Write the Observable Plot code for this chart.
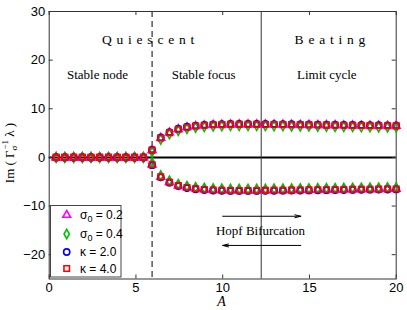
<!DOCTYPE html>
<html>
<head>
<meta charset="utf-8">
<script src="https://cdn.jsdelivr.net/npm/d3@7"></script>
<script src="https://cdn.jsdelivr.net/npm/@observablehq/plot@0.6"></script>
<style>
  html, body { margin: 0; padding: 0; background: #fff; }
  #chart { width: 407px; height: 310px; }
</style>
</head>
<body>
<div id="chart"></div>
<script>
// ---- data ----
const A = [0.40, 0.90, 1.41, 1.91, 2.41, 2.91, 3.42, 3.92, 4.42, 4.92, 5.43, 5.93, 6.43, 6.93, 7.44, 7.94, 8.44, 8.94, 9.45, 9.95, 10.45, 10.95, 11.46, 11.96, 12.46, 12.96, 13.47, 13.97, 14.47, 14.97, 15.48, 15.98, 16.48, 16.98, 17.49, 17.99, 18.49, 18.99, 19.50, 20.00];
const imSigma02 = [0,0,0,0,0,0,0,0,0,0,0, 1.5, 4.0, 5.1, 5.8, 6.2, 6.45, 6.6, 6.7, 6.75, 6.8, 6.8, 6.8, 6.8, 6.78, 6.76, 6.74, 6.72, 6.7, 6.68, 6.66, 6.64, 6.62, 6.6, 6.58, 6.56, 6.54, 6.52, 6.5, 6.48];
const imSigma04 = [0,0,0,0,0,0,0,0,0,0,0, 1.1, 3.7, 4.8, 5.5, 5.9, 6.15, 6.3, 6.4, 6.45, 6.5, 6.5, 6.5, 6.5, 6.48, 6.46, 6.44, 6.42, 6.4, 6.38, 6.36, 6.34, 6.32, 6.3, 6.28, 6.26, 6.24, 6.22, 6.2, 6.18];
const imKappa2  = [0,0,0,0,0,0,0,0,0,0,0, 1.6, 4.1, 5.2, 5.9, 6.3, 6.55, 6.7, 6.8, 6.85, 6.9, 6.9, 6.9, 6.9, 6.88, 6.86, 6.84, 6.82, 6.8, 6.78, 6.76, 6.74, 6.72, 6.7, 6.68, 6.66, 6.64, 6.62, 6.6, 6.58];
const imKappa4  = [0,0,0,0,0,0,0,0,0,0,0, 1.5, 4.0, 5.1, 5.8, 6.2, 6.45, 6.6, 6.7, 6.75, 6.8, 6.8, 6.8, 6.8, 6.78, 6.76, 6.74, 6.72, 6.7, 6.68, 6.66, 6.64, 6.62, 6.6, 6.58, 6.56, 6.54, 6.52, 6.5, 6.48];

const seriesNames = ["σ0 = 0.2", "σ0 = 0.4", "κ = 2.0", "κ = 4.0"];
const seriesValues = [imSigma02, imSigma04, imKappa2, imKappa4];
const seriesSymbols = ["triangle", "diamond", "circle", "square"];
const seriesColors = ["#ff00ff", "#00c000", "#0000ff", "#ff0000"];
const seriesR = [2.9, 2.8, 3.1, 3.1];

const xTicks = [0, 5, 10, 15, 20];
const yTicks = [-20, -10, 0, 10, 20, 30];
const criticalA = 5.93;   // dashed line: onset of oscillation
const hopfA = 12.22;      // solid line: Hopf bifurcation

// build the point table (upper branch and its complex conjugate)
function rows(k) {
  const out = [];
  A.forEach((a, i) => {
    out.push({A: a, im: seriesValues[k][i]});
    out.push({A: a, im: -seriesValues[k][i]});
  });
  return out;
}

const W = 407, H = 310;
const mL = 48.7, mR = 11.3, mT = 11, mB = 31.5;
const innerW = W - mL - mR, innerH = H - mT - mB;
const tk = 4;
const serif = "Liberation Serif, serif";

const marks = [
  Plot.ruleY([0], {stroke: "#000", strokeWidth: 2}),
  Plot.ruleX([criticalA], {stroke: "#000", strokeWidth: 1, strokeDasharray: "6,4"}),
  Plot.ruleX([hopfA], {stroke: "#333", strokeWidth: 1}),
  // inward ticks on all four sides
  Plot.ruleX(xTicks, {stroke: "#333", insetTop: innerH - tk}),
  Plot.ruleX(xTicks, {stroke: "#333", insetBottom: innerH - tk}),
  Plot.ruleY(yTicks, {stroke: "#333", insetRight: innerW - tk}),
  Plot.ruleY(yTicks, {stroke: "#333", insetLeft: innerW - tk}),
  Plot.frame({stroke: "#333", strokeWidth: 1}),
  // annotations
  Plot.text(["Q u i e s c e n t"], {x: 5.72, y: 24.25, text: d => d, fontFamily: serif, fontSize: 13.5}),
  Plot.text(["B e a t i n g"], {x: 16.2, y: 24.25, text: d => d, fontFamily: serif, fontSize: 13.5}),
  Plot.text(["Stable node"], {x: 2.78, y: 17, text: d => d, fontFamily: serif, fontSize: 13}),
  Plot.text(["Stable focus"], {x: 8.9, y: 17, text: d => d, fontFamily: serif, fontSize: 13}),
  Plot.text(["Limit cycle"], {x: 16.0, y: 17, text: d => d, fontFamily: serif, fontSize: 13}),
  Plot.text(["Hopf Bifurcation"], {x: 12.18, y: -15.0, text: d => d, fontFamily: serif, fontSize: 13, fill: "#000"}),
  Plot.arrow([{x1: 10.0, x2: 14.5}], {x1: "x1", x2: "x2", y1: -12.1, y2: -12.1, stroke: "#000", strokeWidth: 1, headLength: 9, headAngle: 28}),
  Plot.arrow([{x1: 14.5, x2: 10.0}], {x1: "x1", x2: "x2", y1: -18.1, y2: -18.1, stroke: "#000", strokeWidth: 1, headLength: 9, headAngle: 28}),
];
for (let k = 0; k < 4; k++) {
  marks.push(Plot.dot(rows(k), {
    x: "A", y: "im", symbol: seriesSymbols[k], stroke: seriesColors[k],
    fill: "none", r: seriesR[k], strokeWidth: 1.6
  }));
}

const plot = Plot.plot({
  width: W, height: H,
  marginLeft: mL, marginRight: mR, marginTop: mT, marginBottom: mB,
  style: {fontFamily: "Liberation Sans, Arial, sans-serif", fontSize: "13px", background: "#fff", color: "#000"},
  x: {domain: [0, 20], ticks: xTicks, tickSize: 0, tickPadding: 4, label: null},
  y: {domain: [-25, 30], ticks: yTicks, tickSize: 0, tickPadding: 4, label: null},
  marks
});
document.getElementById("chart").appendChild(plot);

// ---- axis titles and legend ----
const svg = d3.select(plot);
svg.style("overflow", "visible");

// letter-spaced regime labels
svg.selectAll("text").filter(function () {
  return this.textContent === "Q u i e s c e n t" || this.textContent === "B e a t i n g";
}).attr("letter-spacing", 0.7);

const yl = svg.append("text")
  .attr("transform", "translate(14,153) rotate(-90)")
  .attr("text-anchor", "middle")
  .attr("font-family", serif)
  .attr("font-size", 13)
  .attr("fill", "#000");
yl.append("tspan").text("Im ( Γ");
yl.append("tspan").attr("font-size", 9).attr("dy", 3).text("σ");
yl.append("tspan").attr("font-size", 9).attr("dx", -4).attr("dy", -9).text("−1");
yl.append("tspan").attr("dy", 6).text(" λ )");

svg.append("text")
  .attr("x", 221.5).attr("y", 306)
  .attr("text-anchor", "middle")
  .attr("font-family", serif)
  .attr("font-style", "italic")
  .attr("font-size", 14)
  .attr("fill", "#000")
  .text("A");

const lg = svg.append("g").attr("text-anchor", "start");
lg.append("rect").attr("x", 50.5).attr("y", 205.5).attr("width", 70.5).attr("height", 71.5)
  .attr("fill", "#fff").attr("stroke", "#444").attr("stroke-width", 1);
const symMap = {triangle: d3.symbolTriangle, diamond: d3.symbolDiamond, circle: d3.symbolCircle, square: d3.symbolSquare};
const rowY = [215, 234, 252, 268.5];
seriesNames.forEach((name, k) => {
  lg.append("path")
    .attr("d", d3.symbol(symMap[seriesSymbols[k]], Math.PI * seriesR[k] * seriesR[k])())
    .attr("transform", `translate(66.7,${rowY[k]})`)
    .attr("fill", "none").attr("stroke", seriesColors[k]).attr("stroke-width", 1.6);
  const t = lg.append("text").attr("x", 80).attr("y", rowY[k] + 4)
    .attr("text-anchor", "start")
    .attr("font-family", "Liberation Sans, Arial, sans-serif").attr("font-size", 12).attr("fill", "#000");
  if (name.startsWith("σ0")) {
    t.append("tspan").text("σ");
    t.append("tspan").attr("font-size", 9).attr("dy", 3).text("0");
    t.append("tspan").attr("dy", -3).text(name.slice(2));
  } else {
    t.text(name);
  }
});
</script>
</body>
</html>
